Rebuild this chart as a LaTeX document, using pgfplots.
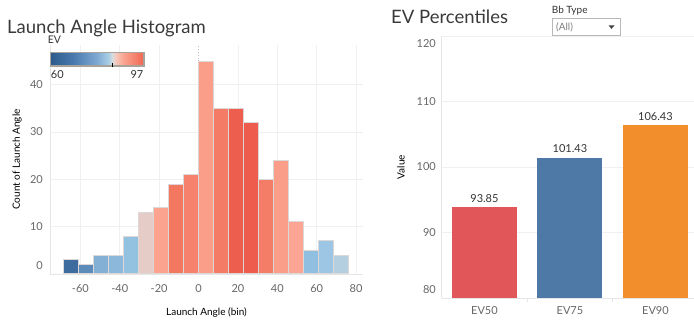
\documentclass[border=0pt]{standalone}
\usepackage{fontspec}
\setmainfont{Lato}
\usepackage{pgfplots}
\pgfplotsset{compat=1.18}

\definecolor{gridc}{HTML}{F0F0F0}
\definecolor{axisc}{HTML}{E6E6E6}
\definecolor{tickc}{HTML}{666666}
\definecolor{labc}{HTML}{333333}
\definecolor{titlec}{HTML}{3A3A3A}
\definecolor{barline}{HTML}{DDD8D8}
\definecolor{legborder}{HTML}{A8A39A}
\definecolor{h1}{HTML}{3F6C9E}
\definecolor{h2}{HTML}{5D8BBA}
\definecolor{h3}{HTML}{84B0D6}
\definecolor{h4}{HTML}{8BB8DB}
\definecolor{h5}{HTML}{93C1E0}
\definecolor{h6}{HTML}{E5CCC7}
\definecolor{h7}{HTML}{FBA38F}
\definecolor{h8}{HTML}{F4775F}
\definecolor{h9}{HTML}{F6826D}
\definecolor{h10}{HTML}{FB9E89}
\definecolor{h11}{HTML}{F47B66}
\definecolor{h12}{HTML}{EE5E4F}
\definecolor{h13}{HTML}{EE5C4D}
\definecolor{h14}{HTML}{F47D67}
\definecolor{h15}{HTML}{FB9E89}
\definecolor{h16}{HTML}{FCA595}
\definecolor{h17}{HTML}{91BFDF}
\definecolor{h18}{HTML}{9CC6E3}
\definecolor{h19}{HTML}{B4D0E0}
\definecolor{ev50}{HTML}{E15759}
\definecolor{ev75}{HTML}{4E79A7}
\definecolor{ev90}{HTML}{F28E2B}

\pgfdeclarehorizontalshading{evshade}{100bp}{%
  rgb(0bp)=(0.176,0.357,0.549);
  rgb(25bp)=(0.176,0.357,0.549);
  rgb(37.5bp)=(0.29,0.48,0.69);
  rgb(50bp)=(0.50,0.667,0.827);
  rgb(56bp)=(0.667,0.812,0.898);
  rgb(58bp)=(0.85,0.87,0.88);
  rgb(60bp)=(0.96,0.78,0.73);
  rgb(64bp)=(0.976,0.647,0.569);
  rgb(75bp)=(0.941,0.40,0.314);
  rgb(100bp)=(0.941,0.40,0.314)}

\newcommand{\hbin}[3]{\addplot[ybar, bar width=7.6, bar shift=0pt, fill=#1, draw=barline, line width=1pt] coordinates {(#2,#3)};}
\newcommand{\evbar}[3]{\addplot[ybar, bar width=0.76, bar shift=0pt, fill=#1, draw=none] coordinates {(#2,#3)};}

\pgfplotsset{
  every axis/.append style={
    /pgf/number format/assume math mode=true,
    scale only axis,
    anchor=south west,
    axis lines*=left,
    axis line style={draw=axisc, line width=0.8pt},
    major tick length=0pt,
    tick style={draw=none},
    major grid style={draw=gridc, line width=0.8pt},
    tick label style={font=\fontsize{11}{13}\selectfont, text=tickc, inner sep=0pt},
    label style={font=\fontsize{11.5}{13}\selectfont, text=labc},
  }
}

\begin{document}
\begin{tikzpicture}[x=1pt,y=1pt]
\useasboundingbox (0pt,0pt) rectangle (694pt,329pt);

% ---------------- Histogram ----------------
\begin{axis}[
  at={(50pt,55pt)}, width=313pt, height=229pt,
  xmin=-75.4, xmax=83.5, ymin=0, ymax=48.4,
  xtick={-60,-40,-20,20,40,60,80},
  extra x ticks={0},
  extra x tick style={major grid style={draw=black!25, dotted, line width=0.8pt}},
  ytick={0,10,20,30,40},
  yticklabels={\raisebox{8pt}[\height][\depth]{0},10,20,30,40},
  xmajorgrids, ymajorgrids,
  xticklabel style={yshift=-10pt},
  yticklabel style={xshift=-7pt},
  xlabel={Launch Angle (bin)},
  ylabel={Count of Launch Angle},
  every axis x label/.style={at={(axis description cs:0.5,0)}, anchor=center, yshift=-39pt},
  every axis y label/.style={at={(axis description cs:-0.1054,0.5)}, rotate=90, anchor=center},
]
\hbin{h1}{-64.6}{3}
\hbin{h2}{-57.0}{2}
\hbin{h3}{-49.4}{4}
\hbin{h4}{-41.8}{4}
\hbin{h5}{-34.2}{8}
\hbin{h6}{-26.6}{13}
\hbin{h7}{-19.0}{14}
\hbin{h8}{-11.4}{19}
\hbin{h9}{-3.8}{21}
\hbin{h10}{3.8}{45}
\hbin{h11}{11.4}{35}
\hbin{h12}{19.0}{35}
\hbin{h13}{26.6}{32}
\hbin{h14}{34.2}{20}
\hbin{h15}{41.8}{24}
\hbin{h16}{49.4}{11}
\hbin{h17}{57.0}{5}
\hbin{h18}{64.6}{7}
\hbin{h19}{72.2}{4}
\end{axis}

% ---------------- EV Percentiles ----------------
\begin{axis}[
  at={(441.7pt,31pt)}, width=252.3pt, height=262pt,
  xmin=-0.5, xmax=2.451, ymin=80, ymax=120,
  xtick={0,1,2}, xticklabels={EV50,EV75,EV90},
  extra x ticks={0.5,1.5}, extra x tick labels={},
  extra x tick style={major tick length=4pt, tick align=outside, tick style={draw=axisc, line width=0.8pt}},
  ytick={80,90,100,110,120},
  yticklabels={\raisebox{8pt}[\height][\depth]{80},90,100,110,\raisebox{-8pt}[\height][\depth]{120}},
  ymajorgrids,
  xticklabel style={yshift=-8.7pt},
  yticklabel style={xshift=-5.7pt},
  ylabel={Value},
  every axis y label/.style={at={(axis description cs:-0.1613,0.5)}, rotate=90, anchor=center},
  nodes near coords={\pgfmathprintnumber[fixed,fixed zerofill,precision=2]{\pgfplotspointmeta}},
  every node near coord/.append style={font=\fontsize{11}{13}\selectfont, text=labc, anchor=south, inner sep=0pt, yshift=4.4pt},
]
\evbar{ev50}{0}{93.85}
\evbar{ev75}{1}{101.43}
\evbar{ev90}{2}{106.43}
\end{axis}

% ---------------- Titles ----------------
\node[anchor=base west, inner sep=0pt, font=\fontsize{18.5}{22}\selectfont, text=titlec] at (7pt,295.7pt) {Launch Angle Histogram};
\node[anchor=base west, inner sep=0pt, font=\fontsize{18.5}{22}\selectfont, text=titlec] at (391pt,305.7pt) {EV Percentiles};

% ---------------- Colour legend ----------------
\node[anchor=base west, inner sep=0pt, font=\fontsize{10.5}{12}\selectfont, text=labc] at (47.7pt,285.7pt) {EV};
\shade[shading=evshade] (50.7pt,263pt) rectangle (144pt,276.3pt);
\draw[draw=legborder, line width=1.2pt] (50.7pt,263pt) rectangle (144pt,276.3pt);
\draw[black, line width=0.8pt] (112.3pt,261.7pt) -- (112.3pt,265.7pt);
\node[anchor=base west, inner sep=0pt, font=\fontsize{11}{13}\selectfont, text=labc] at (50.7pt,250.7pt) {60};
\node[anchor=base east, inner sep=0pt, font=\fontsize{11}{13}\selectfont, text=labc] at (143.5pt,250.7pt) {97};

% ---------------- Filter ----------------
\node[anchor=base west, inner sep=0pt, font=\fontsize{10}{12}\selectfont, text=labc] at (551.7pt,315.7pt) {Bb Type};
\draw[draw=black!28, fill=white, line width=0.8pt] (552.3pt,294pt) rectangle (620pt,310.7pt);
\node[anchor=base west, inner sep=0pt, font=\fontsize{10}{12}\selectfont, text=black!50] at (556pt,298.7pt) {(All)};
\fill[black!75] (608.5pt,303.6pt) -- (614.5pt,303.6pt) -- (611.5pt,300.2pt) -- cycle;
\end{tikzpicture}
\end{document}
